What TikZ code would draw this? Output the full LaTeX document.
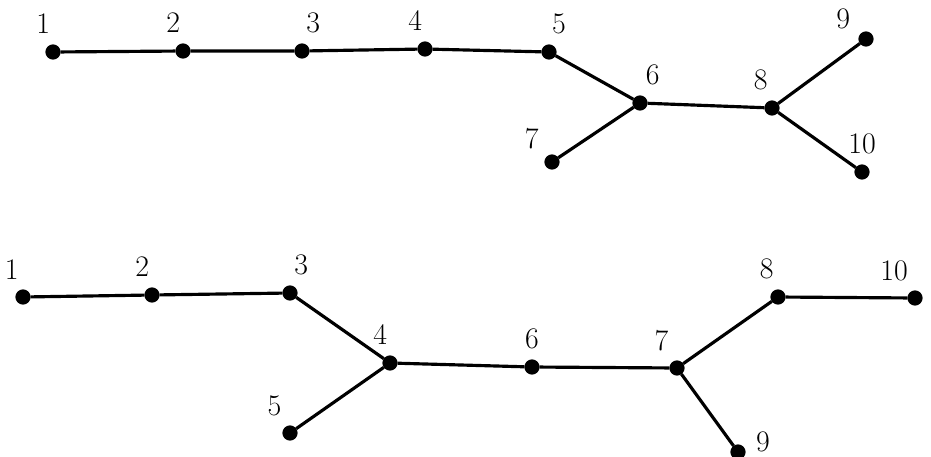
\documentclass[tikz,border=0pt]{standalone}
\usepackage{tikz}

\begin{document}
\begin{tikzpicture}[x=0.02cm, y=-0.02cm, line width=1.8pt,
    vnode/.style = {draw, fill=black, circle, minimum size=0.24cm, inner sep=0pt},
    vlbl/.style = {font=\fontsize{17}{20}\selectfont, inner sep=0pt, label distance=0.18cm},
    tedge/.style = {black}]
    \useasboundingbox (0,0) rectangle (931,457);
    % upper tree
    \node[vnode, label={[vlbl]95:1}] (a1) at (53,52) {};
    \node[vnode, label={[vlbl]95:2}] (a2) at (183,51) {};
    \node[vnode, label={[vlbl]80:3}] (a3) at (302,51) {};
    \node[vnode, label={[vlbl]95:4}] (a4) at (425,49) {};
    \node[vnode, label={[vlbl]85:5}] (a5) at (549,52) {};
    \node[vnode, label={[vlbl]75:6}] (a6) at (640,103) {};
    \node[vnode, label={[vlbl]135:7}] (a7) at (552,162) {};
    \node[vnode, label={[vlbl]100:8}] (a8) at (772,108) {};
    \node[vnode, label={[vlbl]150:9}] (a9) at (866,39) {};
    \node[vnode, label={[vlbl]90:10}] (a10) at (862,172) {};
    \draw[tedge] (a1) -- (a2) -- (a3) -- (a4) -- (a5) -- (a6) -- (a8);
    \draw[tedge] (a6) -- (a7);
    \draw[tedge] (a8) -- (a9);
    \draw[tedge] (a8) -- (a10);
    % lower tree
    \node[vnode, label={[vlbl]100:1}] (b1) at (23,297) {};
    \node[vnode, label={[vlbl]95:2}] (b2) at (152,295) {};
    \node[vnode, label={[vlbl]80:3}] (b3) at (290,293) {};
    \node[vnode, label={[vlbl]95:4}] (b4) at (390,363) {};
    \node[vnode, label={[vlbl]115:5}] (b5) at (290,433) {};
    \node[vnode, label={[vlbl]90:6}] (b6) at (532,367) {};
    \node[vnode, label={[vlbl]115:7}] (b7) at (677,368) {};
    \node[vnode, label={[vlbl]100:8}] (b8) at (778,297) {};
    \node[vnode, label={[vlbl, yshift=0.2cm]0:9}] (b9) at (738,452) {};
    \node[vnode, label={[vlbl]110:10}] (b10) at (915,298) {};
    \draw[tedge] (b1) -- (b2) -- (b3) -- (b4) -- (b6) -- (b7) -- (b8) -- (b10);
    \draw[tedge] (b4) -- (b5);
    \draw[tedge] (b7) -- (b9);
\end{tikzpicture}
\end{document}
